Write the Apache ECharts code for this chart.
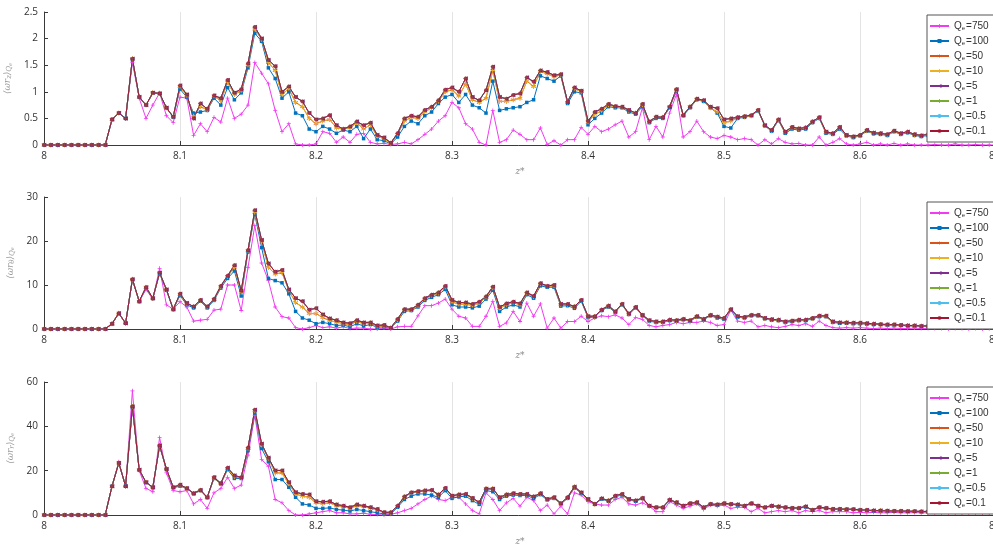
<!DOCTYPE html>
<html>
<head>
<meta charset="utf-8">
<script src="https://cdn.jsdelivr.net/npm/echarts@6/dist/echarts.min.js"></script>
<style>
  html, body { margin: 0; padding: 0; background: #fff; }
  #chart { width: 993px; height: 545px; }
</style>
</head>
<body>
<div id="chart"></div>
<script>
// Axial stations z*
const zPos = [
  8.000, 8.005, 8.010, 8.015, 8.020, 8.025, 8.030, 8.035, 8.040, 8.045,
  8.050, 8.055, 8.060, 8.065, 8.070, 8.075, 8.080, 8.085, 8.090, 8.095,
  8.100, 8.105, 8.110, 8.115, 8.120, 8.125, 8.130, 8.135, 8.140, 8.145,
  8.150, 8.155, 8.160, 8.165, 8.170, 8.175, 8.180, 8.185, 8.190, 8.195,
  8.200, 8.205, 8.210, 8.215, 8.220, 8.225, 8.230, 8.235, 8.240, 8.245,
  8.250, 8.255, 8.260, 8.265, 8.270, 8.275, 8.280, 8.285, 8.290, 8.295,
  8.300, 8.305, 8.310, 8.315, 8.320, 8.325, 8.330, 8.335, 8.340, 8.345,
  8.350, 8.355, 8.360, 8.365, 8.370, 8.375, 8.380, 8.385, 8.390, 8.395,
  8.400, 8.405, 8.410, 8.415, 8.420, 8.425, 8.430, 8.435, 8.440, 8.445,
  8.450, 8.455, 8.460, 8.465, 8.470, 8.475, 8.480, 8.485, 8.490, 8.495,
  8.500, 8.505, 8.510, 8.515, 8.520, 8.525, 8.530, 8.535, 8.540, 8.545,
  8.550, 8.555, 8.560, 8.565, 8.570, 8.575, 8.580, 8.585, 8.590, 8.595,
  8.600, 8.605, 8.610, 8.615, 8.620, 8.625, 8.630, 8.635, 8.640, 8.645,
  8.650, 8.655, 8.660, 8.665, 8.670, 8.675, 8.680, 8.685, 8.690, 8.695,
  8.700
];

// Q_e values, in drawing order
const qLabels = ['750', '100', '50', '10', '5', '1', '0.5', '0.1'];

// Panel 1: <w r_z>
const w1q750 = [
  0,0,0,0,0,0,0,0,0,0,
  0.48,0.6,0.5,1.55,0.88,0.5,0.75,0.98,0.55,0.42,
  0.9,0.88,0.18,0.4,0.25,0.52,0.43,0.88,0.5,0.58,
  0.75,1.55,1.35,1.15,0.65,0.25,0.4,0.02,0,0,
  0.02,0.25,0.22,0.05,0.15,0.05,0.2,0.22,0.05,0.02,
  0.03,0.01,0.02,0.05,0.02,0.1,0.2,0.3,0.45,0.55,
  0.8,0.7,0.4,0.3,0.05,0,0.65,0.05,0.1,0.28,
  0.2,0.1,0.1,0.32,0.01,0.08,0,0.1,0.1,0.33,
  0.2,0.35,0.25,0.3,0.38,0.45,0.15,0.25,0.7,0.1,
  0.35,0.15,0.6,0.95,0.15,0.25,0.45,0.25,0.15,0.12,
  0.18,0.15,0.1,0.12,0.1,0,0.1,0.02,0.12,0.05,
  0.02,0.03,0,0,0.15,0,0.05,0.12,0.02,0,
  0.02,0.05,0,0.02,0,0.03,0,0.02,0,0,
  0,0.01,0,0,0.02,0,0,0.01,0,0,0
];
const w1q100 = [
  0,0,0,0,0,0,0,0,0,0,
  0.48,0.6,0.5,1.6,0.9,0.75,0.98,0.97,0.7,0.52,
  1.05,0.9,0.6,0.62,0.65,0.88,0.75,1.08,0.85,0.98,
  1.45,2.1,1.95,1.45,1.25,0.88,1.0,0.6,0.55,0.3,
  0.25,0.35,0.3,0.22,0.28,0.25,0.35,0.12,0.3,0.1,
  0.08,0.02,0.15,0.35,0.45,0.4,0.55,0.62,0.78,0.9,
  0.95,0.8,0.95,0.75,0.7,0.6,1.2,0.65,0.68,0.7,
  0.72,0.8,0.85,1.3,1.25,1.2,1.3,0.78,1.0,0.98,
  0.38,0.5,0.6,0.72,0.7,0.7,0.62,0.58,0.72,0.42,
  0.5,0.5,0.7,1.02,0.55,0.7,0.85,0.82,0.7,0.6,
  0.35,0.32,0.5,0.52,0.55,0.64,0.36,0.26,0.46,0.22,
  0.3,0.28,0.3,0.42,0.5,0.22,0.2,0.3,0.17,0.14,
  0.17,0.26,0.21,0.2,0.18,0.25,0.2,0.23,0.18,0.16,
  0.18,0.15,0.13,0.14,0.12,0.13,0.11,0.12,0.11,0.1,0.11
];
const w1q50 = [
  0,0,0,0,0,0,0,0,0,0,
  0.48,0.6,0.5,1.62,0.9,0.75,0.98,0.97,0.7,0.53,
  1.1,0.93,0.55,0.72,0.66,0.92,0.83,1.18,0.95,1.02,
  1.5,2.18,1.98,1.55,1.4,0.95,1.06,0.8,0.72,0.5,
  0.4,0.45,0.48,0.32,0.3,0.32,0.42,0.3,0.38,0.16,
  0.12,0.03,0.2,0.45,0.52,0.5,0.62,0.7,0.82,1.0,
  1.04,0.92,1.15,0.85,0.8,0.88,1.4,0.82,0.82,0.85,
  0.88,1.2,1.1,1.38,1.34,1.28,1.32,0.8,1.06,1.0,
  0.43,0.58,0.64,0.75,0.72,0.71,0.65,0.6,0.75,0.43,
  0.52,0.52,0.72,1.04,0.56,0.72,0.86,0.83,0.7,0.62,
  0.42,0.45,0.51,0.53,0.55,0.65,0.37,0.27,0.47,0.24,
  0.33,0.3,0.32,0.43,0.51,0.24,0.21,0.33,0.18,0.15,
  0.18,0.27,0.22,0.21,0.19,0.26,0.21,0.24,0.19,0.17,
  0.19,0.16,0.14,0.15,0.13,0.14,0.12,0.13,0.12,0.11,0.12
];
const w1q01 = [
  0,0,0,0,0,0,0,0,0,0,
  0.48,0.6,0.5,1.62,0.9,0.75,0.98,0.97,0.7,0.53,
  1.12,0.95,0.5,0.78,0.68,0.93,0.88,1.22,0.98,1.05,
  1.53,2.22,2.0,1.6,1.48,1.0,1.1,0.9,0.82,0.6,
  0.48,0.5,0.56,0.37,0.3,0.35,0.44,0.37,0.42,0.19,
  0.14,0.04,0.22,0.5,0.55,0.53,0.66,0.72,0.84,1.04,
  1.08,1.0,1.25,0.9,0.84,1.03,1.47,0.9,0.87,0.94,
  0.97,1.27,1.19,1.4,1.37,1.31,1.33,0.81,1.08,1.02,
  0.45,0.62,0.68,0.77,0.73,0.72,0.66,0.6,0.77,0.44,
  0.53,0.52,0.72,1.05,0.56,0.72,0.87,0.84,0.72,0.69,
  0.48,0.5,0.52,0.54,0.56,0.66,0.37,0.28,0.48,0.25,
  0.34,0.31,0.33,0.44,0.52,0.25,0.22,0.34,0.19,0.16,
  0.19,0.28,0.23,0.22,0.2,0.27,0.22,0.25,0.2,0.18,
  0.2,0.17,0.15,0.16,0.14,0.15,0.13,0.14,0.13,0.12,0.13
];

// Panel 2: <w r_theta>
const w2q750 = [
  0,0,0,0,0,0,0,0,0,0,
  1.2,3.5,1.3,11.3,6.3,9.0,6.8,13.8,5.5,4.5,
  6.2,5.0,1.8,2.0,2.2,4.3,4.5,10.0,10.0,4.2,
  14.0,23.5,15.0,11.0,5.0,2.8,2.5,0.3,0,0.3,
  0.8,0.3,0.5,0.2,0.5,0.1,0.2,0.2,0,0,
  0.2,0,0.5,0.6,0.6,3.0,5.3,5.3,5.9,6.8,
  4.5,2.9,2.5,0.6,0.6,2.9,6.3,0.6,1.4,4.0,
  1.7,5.9,2.9,5.7,0.2,2.5,0.2,1.7,1.7,2.9,
  1.7,2.5,3.0,2.8,3.2,2.5,1.0,2.6,2.2,0.8,
  0.5,0.8,1.0,1.5,1.2,1.5,1.5,1.8,1.5,0.8,
  1.0,4.3,1.8,1.5,1.8,0.5,0.8,0.5,0.3,0.6,
  1.0,0.8,1.2,0.6,1.8,0.8,0.3,0.2,0.3,0.2,
  0.3,0.2,0.1,0.2,0.1,0.2,0.1,0.1,0.2,0.1,
  0.1,0.1,0.1,0,0.1,0.1,0,0.1,0,0.1,0
];
const w2q100 = [
  0,0,0,0,0,0,0,0,0,0,
  1.2,3.5,1.3,11.2,6.2,9.3,6.9,12.6,8.8,4.4,
  7.6,5.5,4.8,6.3,4.8,6.5,9.3,11.5,13.2,7.5,
  17.5,26.0,18.5,11.5,11.0,10.5,8.0,4.0,2.5,2.0,
  1.2,1.5,1.2,0.8,0.9,0.5,1.2,0.7,1.0,0.4,
  0.5,0.2,1.8,4.0,4.2,5.0,6.5,7.2,7.8,9.0,
  5.5,5.0,5.0,4.8,5.2,6.8,8.8,4.0,5.0,5.5,
  5.0,7.8,7.0,9.8,9.5,9.5,5.2,5.3,4.7,6.3,
  2.6,2.7,4.2,5.0,3.8,5.5,3.3,4.8,3.0,1.8,
  1.5,1.5,1.9,1.8,2.1,1.8,2.7,2.1,3.0,2.5,
  2.2,4.3,2.7,2.5,3.0,3.0,2.3,2.0,1.9,1.5,
  1.7,1.9,1.9,2.3,2.8,2.8,1.5,1.3,1.3,1.2,
  1.2,1.1,1.0,1.0,0.9,0.9,0.8,0.7,0.7,0.6,
  0.6,0.5,0.5,0.5,0.4,0.4,0.4,0.3,0.3,0.3,0.3
];
const w2q50 = [
  0,0,0,0,0,0,0,0,0,0,
  1.2,3.6,1.3,11.3,6.3,9.5,7.0,12.8,9.0,4.5,
  7.9,5.8,5.0,6.5,5.0,6.7,9.6,11.9,14.0,8.3,
  17.8,26.5,19.8,14.0,12.5,12.8,8.8,6.0,5.0,3.5,
  3.5,2.6,1.9,1.6,1.2,1.0,1.7,1.2,1.3,0.6,
  0.7,0.25,2.0,4.3,4.3,5.3,6.8,7.6,8.1,9.5,
  6.2,5.6,5.6,5.4,5.9,7.2,9.3,4.7,5.5,6.0,
  5.5,8.1,7.3,10.2,9.7,9.8,5.5,5.5,5.0,6.5,
  2.8,2.8,4.3,5.2,3.9,5.6,3.4,4.9,3.1,1.9,
  1.6,1.6,2.0,1.9,2.2,1.9,2.8,2.2,3.1,2.7,
  2.4,4.4,2.8,2.6,3.1,3.1,2.4,2.1,2.0,1.6,
  1.8,2.0,2.0,2.4,2.9,2.9,1.6,1.4,1.4,1.3,
  1.3,1.2,1.1,1.0,0.9,0.9,0.8,0.8,0.7,0.7,
  0.6,0.6,0.5,0.5,0.5,0.4,0.4,0.4,0.4,0.3,0.3
];
const w2q01 = [
  0,0,0,0,0,0,0,0,0,0,
  1.2,3.6,1.3,11.3,6.3,9.5,7.0,12.8,9.0,4.5,
  8.0,5.9,5.1,6.6,5.1,6.8,9.8,12.1,14.5,8.7,
  17.9,27.0,20.2,14.9,13.0,13.4,9.0,7.0,6.3,4.4,
  4.7,3.3,2.4,2.0,1.5,1.3,2.0,1.5,1.5,0.8,
  0.9,0.3,2.3,4.5,4.5,5.5,7.0,7.8,8.3,9.8,
  6.6,6.0,6.0,5.7,6.2,7.4,9.6,5.0,5.8,6.2,
  5.8,8.3,7.5,10.4,9.8,10.0,5.7,5.7,5.1,6.6,
  2.9,2.9,4.4,5.3,4.0,5.7,3.5,5.0,3.2,2.0,
  1.7,1.7,2.1,2.0,2.3,2.0,2.9,2.3,3.2,2.8,
  2.5,4.5,2.9,2.7,3.2,3.2,2.5,2.2,2.1,1.7,
  1.9,2.1,2.1,2.5,3.0,3.0,1.7,1.5,1.5,1.4,
  1.4,1.3,1.2,1.1,1.0,1.0,0.9,0.8,0.8,0.7,
  0.7,0.6,0.6,0.5,0.5,0.5,0.4,0.4,0.4,0.4,0.4
];

// Panel 3: <w r_r>
const w3q750 = [
  0,0,0,0,0,0,0,0,0,0,
  13,24,13,56,20,12,10.5,35,19,11,
  10.5,11,5,7,3,10,12,17,12,13.5,
  27,45,25,22,7,5.5,2,0,0,0.5,
  1,1.5,2,1,1,0.5,0.5,0.8,0.3,0.2,
  0,0.3,1,2,3,5,7,8.5,7,6.5,
  8,8,5,2,0.5,10,7,2,5.5,7.5,
  4,8,6.5,2,4.5,0.5,4,0.5,10,9,
  6,5,4.5,4.5,7,8,5,4.5,5.5,4,
  1.5,1.5,6,4.5,3,4,5,2.5,4.5,4,
  4.5,3,3.5,3.5,1.5,3,1,1.5,2,1.5,
  2,1,2,1.5,2,1,1.5,1.5,1.5,1,
  1.2,1,1.2,1,1,1.2,1,1,1.1,1,
  1,1,1,1,1,1,1,1,1,1,1
];
const w3q100 = [
  0,0,0,0,0,0,0,0,0,0,
  13,23.5,13,48.5,20.2,14.6,12.3,31.0,20.5,12.3,
  13,12,9.5,11,7.8,16.5,14,20.5,16.5,16.5,
  29,46,30,24,16,16,12.5,8,5,4.5,
  3,3,3.2,2.5,2.2,1.8,2.5,2.0,1.5,1.0,
  0.5,0.5,3.5,7.0,8.5,9.5,9.5,9.0,8.0,11.0,
  7.5,8.2,8.5,6.5,4.8,11.0,10.5,7.0,8.5,9.0,
  8.8,8.8,7.5,9.2,6.8,7.5,5.0,7.5,12.2,9.8,
  6.8,4.8,7.2,6.2,8.3,9.0,6.8,6.2,7.4,4.0,
  3.3,3.3,6.6,5.4,4.0,5.0,5.4,3.3,4.8,4.5,
  5.0,4.8,4.5,4.0,5.0,4.0,3.3,4.0,3.6,3.3,
  3.0,3.0,3.6,2.2,3.3,3.0,2.6,2.6,2.5,2.5,
  2.2,2.1,1.9,1.9,1.8,1.7,1.7,1.6,1.6,1.5,
  1.5,1.4,1.4,1.4,1.4,1.4,1.4,1.4,1.4,1.4,1.4
];
const w3q50 = [
  0,0,0,0,0,0,0,0,0,0,
  13,23.5,13,49,20.4,14.8,12.5,31.4,20.8,12.5,
  13.4,12.0,9.7,11.2,7.9,16.8,14.2,21.0,17.2,16.8,
  30.0,47.0,31.5,25.5,19.0,19.0,14.0,9.5,8.5,8.0,
  5.5,5.2,5.5,4.2,3.8,3.0,4.2,3.8,3.0,2.3,
  1.0,1.0,4.0,8.0,10.0,10.5,10.8,11.0,9.0,12.0,
  8.5,9.0,9.3,7.5,5.5,12.0,12.0,7.8,9.0,9.6,
  9.3,9.3,8.1,9.6,7.0,7.8,5.2,7.8,12.6,10.0,
  7.0,4.9,7.4,6.4,8.5,9.3,7.0,6.4,7.6,4.1,
  3.4,3.4,6.8,5.6,4.1,5.2,5.6,3.4,4.9,4.6,
  5.2,4.9,4.6,4.1,5.2,4.1,3.4,4.1,3.7,3.4,
  3.1,3.1,3.7,2.2,3.4,3.1,2.6,2.6,2.5,2.5,
  2.2,2.1,1.9,1.9,1.8,1.7,1.7,1.6,1.6,1.5,
  1.5,1.5,1.4,1.4,1.4,1.4,1.4,1.4,1.4,1.4,1.4
];
const w3q01 = [
  0,0,0,0,0,0,0,0,0,0,
  13,23.5,13,49,20.4,14.8,12.5,31.4,20.8,12.5,
  13.6,12.1,9.8,11.3,8.0,17.0,14.3,21.3,17.8,17.0,
  30.3,47.5,32.1,25.8,20.1,20.1,14.8,10.3,9.5,9.2,
  6.2,6.0,6.2,4.7,4.2,3.5,4.7,4.2,3.5,2.7,
  1.2,1.2,4.2,8.3,10.2,10.7,11.0,11.3,9.2,12.2,
  8.7,9.2,9.5,7.7,5.7,11.8,11.8,8.0,9.2,9.8,
  9.5,9.5,8.3,9.8,7.2,8.0,5.3,8.0,12.8,10.2,
  7.2,5.0,7.5,6.5,8.7,9.5,7.2,6.5,7.7,4.2,
  3.5,3.5,6.9,5.7,4.2,5.3,5.7,3.5,5.0,4.7,
  5.3,5.0,4.7,4.2,5.3,4.2,3.5,4.2,3.8,3.5,
  3.2,3.2,3.8,2.3,3.5,3.2,2.7,2.7,2.6,2.6,
  2.3,2.2,2.0,2.0,1.9,1.8,1.8,1.7,1.7,1.6,
  1.6,1.5,1.5,1.5,1.5,1.5,1.5,1.5,1.5,1.5,1.5
];

// Curves per panel, one per Q_e (Q_e = 10 follows 50; Q_e <= 5 coincide)
const panelCurves = [
  [w1q750, w1q100, w1q50, w1q50, w1q01, w1q01, w1q01, w1q01],
  [w2q750, w2q100, w2q50, w2q50, w2q01, w2q01, w2q01, w2q01],
  [w3q750, w3q100, w3q50, w3q50, w3q01, w3q01, w3q01, w3q01]
];
const yRanges = [[0, 2.5, 0.5], [0, 30, 10], [0, 60, 20]];
const ySub = ['z', 'θ', 'r'];

const plusPath = 'path://M4,0H6V4H10V6H6V10H4V6H0V4H4Z';
const starPath = 'path://M4.5,0H5.5V4.1L9,2L9.5,2.9L6,5L9.5,7.1L9,8L5.5,5.9V10H4.5V5.9L1,8L0.5,7.1L4,5L0.5,2.9L1,2L4.5,4.1Z';
const styles = [
  { color: '#F03CF0', symbol: plusPath, size: 4 },
  { color: '#0072BD', symbol: 'rect', size: 3.5 },
  { color: '#D95319', symbol: starPath, size: 5 },
  { color: '#EDB120', symbol: plusPath, size: 4 },
  { color: '#7E2F8E', symbol: 'triangle', size: 4.5, rotate: 90 },
  { color: '#77AC30', symbol: plusPath, size: 4 },
  { color: '#4DBEEE', symbol: 'circle', size: 2 },
  { color: '#A2142F', symbol: 'circle', size: 4, opacity: 0.75 }
];

const grids = [
  { left: 44, top: 12, width: 952, height: 133, outerBoundsMode: 'none' },
  { left: 44, top: 197, width: 952, height: 132, outerBoundsMode: 'none' },
  { left: 44, top: 382, width: 952, height: 133, outerBoundsMode: 'none' }
];
const legendTops = [15, 202, 387];

const font = 'Open Sans, Liberation Sans, sans-serif';
const legendFont = 'Liberation Sans, Arial, sans-serif';
const xAxes = [], yAxes = [], series = [], legends = [];

grids.forEach((g, k) => {
  xAxes.push({
    type: 'value', gridIndex: k, min: 8, max: 8.7, interval: 0.1,
    name: 'z*', nameLocation: 'middle', nameGap: 22,
    nameTextStyle: { fontStyle: 'italic', fontSize: 9, color: '#888', fontFamily: 'DejaVu Serif' },
    axisLine: { lineStyle: { color: '#3a3a3a', width: 1 } },
    axisTick: { inside: true, length: 4, lineStyle: { color: '#3a3a3a' } },
    axisLabel: { color: '#333', fontSize: 10, margin: 6, fontFamily: font, showMaxLabel: true, hideOverlap: false },
    splitLine: { show: true, lineStyle: { color: '#e4e4e4', width: 1 } }
  });
  const r = yRanges[k];
  yAxes.push({
    type: 'value', gridIndex: k, min: r[0], max: r[1], interval: r[2],
    name: '{m|⟨ωr}{s|' + ySub[k] + '}{m|⟩}{s|Q}{e|e}',
    nameLocation: 'middle', nameGap: 28,
    nameTextStyle: {
      rich: {
        m: { fontSize: 9, color: '#9a9a9a', fontFamily: 'DejaVu Serif', fontStyle: 'italic' },
        s: { fontSize: 7, color: '#9a9a9a', fontFamily: 'DejaVu Serif', fontStyle: 'italic', padding: [4, 0, 0, 0] },
        e: { fontSize: 5, color: '#9a9a9a', fontFamily: 'DejaVu Serif', fontStyle: 'italic', padding: [6, 0, 0, 0] }
      }
    },
    axisLine: { show: true, lineStyle: { color: '#3a3a3a', width: 1 } },
    axisTick: { show: true, inside: true, length: 4, lineStyle: { color: '#3a3a3a' } },
    axisLabel: { color: '#333', fontSize: 10, margin: 6, fontFamily: font },
    splitLine: { show: false }
  });
  panelCurves[k].forEach((ys, j) => {
    const st = styles[j];
    series.push({
      name: 'Qe=' + qLabels[j],
      type: 'line',
      xAxisIndex: k, yAxisIndex: k,
      data: zPos.map((z, i) => [z, ys[i]]),
      symbol: st.symbol,
      symbolSize: st.size,
      symbolRotate: st.rotate || 0,
      showSymbol: true,
      itemStyle: { color: st.color, opacity: st.opacity || 1 },
      lineStyle: { color: st.color, width: 1 },
      emphasis: { disabled: true },
      clip: true
    });
  });
  legends.push({
    orient: 'vertical', left: 927, top: legendTops[k],
    data: qLabels.map(q => 'Qe=' + q),
    itemWidth: 19, itemHeight: 5, itemGap: 3,
    padding: [5, 6, 5, 2],
    backgroundColor: '#fff', borderColor: '#555', borderWidth: 1,
    selectedMode: false,
    formatter: n => '{q|Q}{s|e}{t|' + n.slice(2) + '}',
    textStyle: {
      fontFamily: legendFont, fontSize: 10, color: '#333', lineHeight: 12,
      rich: {
        q: { fontSize: 10, color: '#333', fontFamily: legendFont },
        s: { fontSize: 6, color: '#333', fontFamily: legendFont, padding: [5, 1, 0, 0] },
        t: { fontSize: 10, color: '#333', fontFamily: legendFont }
      }
    }
  });
});

const chart = echarts.init(document.getElementById('chart'), null, { renderer: 'canvas' });
chart.setOption({
  animation: false,
  backgroundColor: '#fff',
  grid: grids,
  xAxis: xAxes,
  yAxis: yAxes,
  legend: legends,
  series: series
});
</script>
</body>
</html>
